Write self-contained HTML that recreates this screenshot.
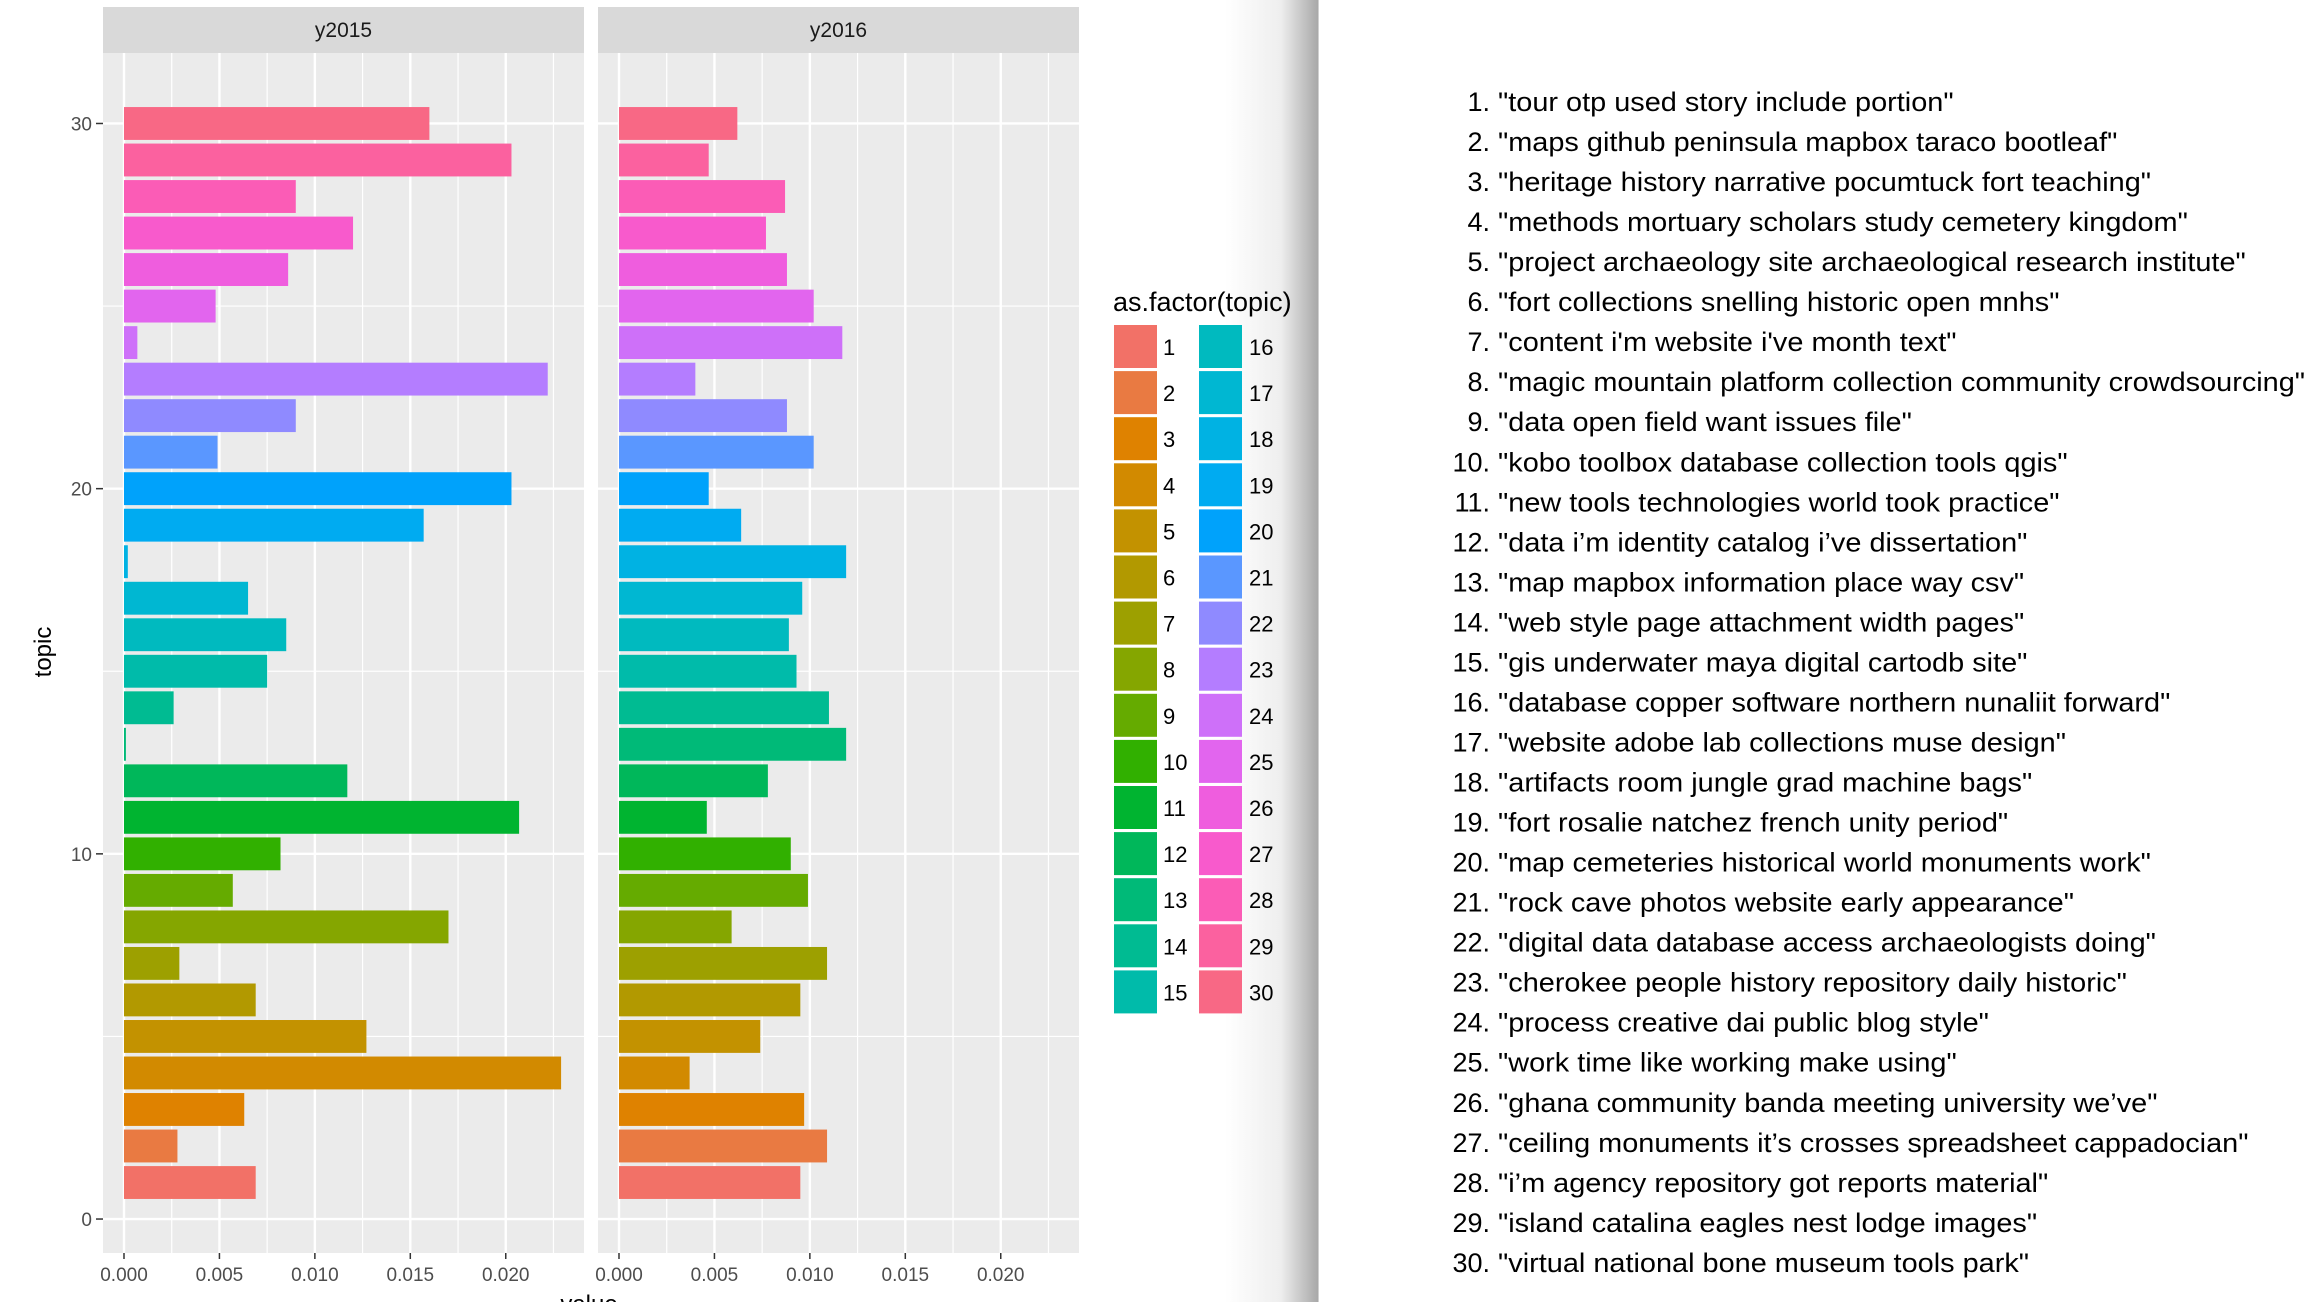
<!DOCTYPE html>
<html><head><meta charset="utf-8"><style>
html,body{margin:0;padding:0;background:#fff;}
svg{display:block;font-family:"Liberation Sans",Arial,sans-serif;}
</style></head><body>
<svg id="chart" width="2308" height="1302" viewBox="0 0 2308 1302" xmlns="http://www.w3.org/2000/svg">
<defs>
<linearGradient id="shadow" x1="0" x2="1" y1="0" y2="0">
<stop offset="0" stop-color="#ffffff"/>
<stop offset="0.6" stop-color="#eeeeee"/>
<stop offset="1" stop-color="#a8a8a8"/>
</linearGradient>
</defs>
<rect x="1225" y="0" width="93" height="1302" fill="url(#shadow)"/>
<line x1="1318.5" y1="0" x2="1318.5" y2="1302" stroke="#d0d0d0" stroke-width="1"/>
<g id="plot"></g>
<g id="legend"></g>
<g id="topiclist"></g>
</svg>
<script>
const topics = [1,2,3,4,5,6,7,8,9,10,11,12,13,14,15,16,17,18,19,20,21,22,23,24,25,26,27,28,29,30];
const values2015 = [0.0069,0.0028,0.0063,0.0229,0.0127,0.0069,0.0029,0.0170,0.0057,0.0082,0.0207,0.0117,0.0001,0.0026,0.0075,0.0085,0.0065,0.0002,0.0157,0.0203,0.0049,0.0090,0.0222,0.0007,0.0048,0.0086,0.0120,0.0090,0.0203,0.0160];
const values2016 = [0.0095,0.0109,0.0097,0.0037,0.0074,0.0095,0.0109,0.0059,0.0099,0.0090,0.0046,0.0078,0.0119,0.0110,0.0093,0.0089,0.0096,0.0119,0.0064,0.0047,0.0102,0.0088,0.0040,0.0117,0.0102,0.0088,0.0077,0.0087,0.0047,0.0062];
const panelNames = ["y2015","y2016"];
const xTicks = [0,0.005,0.010,0.015,0.020];
const xTickLabels = ["0.000","0.005","0.010","0.015","0.020"];
const yTicks = [0,10,20,30];
const topicLabels = ["tour otp used story include portion","maps github peninsula mapbox taraco bootleaf","heritage history narrative pocumtuck fort teaching","methods mortuary scholars study cemetery kingdom","project archaeology site archaeological research institute","fort collections snelling historic open mnhs","content i'm website i've month text","magic mountain platform collection community crowdsourcing","data open field want issues file","kobo toolbox database collection tools qgis","new tools technologies world took practice","data i’m identity catalog i’ve dissertation","map mapbox information place way csv","web style page attachment width pages","gis underwater maya digital cartodb site","database copper software northern nunaliit forward","website adobe lab collections muse design","artifacts room jungle grad machine bags","fort rosalie natchez french unity period","map cemeteries historical world monuments work","rock cave photos website early appearance","digital data database access archaeologists doing","cherokee people history repository daily historic","process creative dai public blog style","work time like working make using","ghana community banda meeting university we’ve","ceiling monuments it’s crosses spreadsheet cappadocian","i’m agency repository got reports material","island catalina eagles nest lodge images","virtual national bone museum tools park"];

const NS="http://www.w3.org/2000/svg";
function mk(tag, attrs, parent){const e=document.createElementNS(NS,tag);for(const k in attrs)e.setAttribute(k,attrs[k]);parent.appendChild(e);return e;}
function hcl(h,c,l){
  const Xn=95.047,Yn=100,Zn=108.883;
  const d=Xn+15*Yn+3*Zn, un=4*Xn/d, vn=9*Yn/d;
  const hr=h*Math.PI/180, u=c*Math.cos(hr), v=c*Math.sin(hr);
  const Y=Yn*Math.pow((l+16)/116,3);
  const up=u/(13*l)+un, vp=v/(13*l)+vn;
  const X=Y*9*up/(4*vp), Z=Y*(12-3*up-20*vp)/(4*vp);
  const x=X/100,y=Y/100,z=Z/100;
  let r=3.2404542*x-1.5371385*y-0.4985314*z;
  let g=-0.9692660*x+1.8760108*y+0.0415560*z;
  let b=0.0556434*x-0.2040259*y+1.0572252*z;
  const gam=t=>{t=t<=0.0031308?12.92*t:1.055*Math.pow(t,1/2.4)-0.055;return Math.round(Math.max(0,Math.min(1,t))*255);};
  return "rgb("+gam(r)+","+gam(g)+","+gam(b)+")";
}
const colors = topics.map((t,i)=>hcl(15+360*i/30,100,63));

const plot=document.getElementById("plot");
const panelX=[103,598], panelW=481, panelTop=53, panelBot=1253;
const xMin=-0.0011, xMax=0.0241, yMin=-0.93, yMax=31.93;
function xs(p,v){return panelX[p]+(v-xMin)/(xMax-xMin)*panelW;}
function ys(v){return panelBot-(v-yMin)/(yMax-yMin)*(panelBot-panelTop);}
const series=[values2015,values2016];
const unitH=(panelBot-panelTop)/(yMax-yMin);

panelNames.forEach((name,p)=>{
  const g=mk("g",{},plot);
  
  
  const strip=mk("rect",{x:panelX[p],y:7,width:panelW,height:46,fill:"#d9d9d9"},g);
  
  
  const st=mk("text",{x:panelX[p]+panelW/2,y:37,"text-anchor":"middle","font-size":"21",fill:"#1a1a1a"},g);
  st.textContent=name;
  
  
  mk("rect",{x:panelX[p],y:panelTop,width:panelW,height:panelBot-panelTop,fill:"#ebebeb"},g);
  for(let v=-0.0025; v<=xMax; v+=0.005){ if(v<xMin)continue; const x=xs(p,v); mk("line",{x1:x,x2:x,y1:panelTop,y2:panelBot,stroke:"#fff","stroke-width":1.2},g);}
  [5,15,25].forEach(v=>{const y=ys(v);mk("line",{x1:panelX[p],x2:panelX[p]+panelW,y1:y,y2:y,stroke:"#fff","stroke-width":1.2},g);});
  xTicks.forEach(v=>{const x=xs(p,v);mk("line",{x1:x,x2:x,y1:panelTop,y2:panelBot,stroke:"#fff","stroke-width":2.4},g);});
  yTicks.forEach(v=>{const y=ys(v);mk("line",{x1:panelX[p],x2:panelX[p]+panelW,y1:y,y2:y,stroke:"#fff","stroke-width":2.4},g);});
  topics.forEach((t,i)=>{
    const v=series[p][i];
    const r=mk("rect",{x:xs(p,0),y:ys(t)-unitH*0.45,width:Math.max(0.5,xs(p,v)-xs(p,0)),height:unitH*0.9,fill:colors[i]},g);
    
    
  });
  xTicks.forEach((v,k)=>{
    const x=xs(p,v);
    mk("line",{x1:x,x2:x,y1:panelBot,y2:panelBot+6,stroke:"#333","stroke-width":1.5},g);
    const tl=mk("text",{x:x,y:1281,"text-anchor":"middle","font-size":"19",fill:"#4d4d4d"},g);
    tl.textContent=xTickLabels[k];
    
    
  });
});
yTicks.forEach(v=>{
  const y=ys(v);
  mk("line",{x1:96,x2:103,y1:y,y2:y,stroke:"#333","stroke-width":1.5},plot);
  const tl=mk("text",{x:92,y:y+7,"text-anchor":"end","font-size":"19",fill:"#4d4d4d"},plot);
  tl.textContent=String(v);
  
  
});
const yt=mk("text",{x:0,y:0,transform:"translate(51,652) rotate(-90)","text-anchor":"middle","font-size":"24",fill:"#000"},plot);
yt.textContent="topic";


const xt=mk("text",{x:589,y:1312,"text-anchor":"middle","font-size":"24",fill:"#000"},plot);
xt.textContent="value";



const leg=document.getElementById("legend");


const lt=mk("text",{x:1113,y:311,"font-size":"27",fill:"#000"},leg);
lt.textContent="as.factor(topic)";


topics.forEach((t,i)=>{
  const col=i<15?0:1, row=i%15;
  const kx=col?1199:1114, ky=325+row*46.1;
  const e=mk("g",{},leg);
  
  
  mk("rect",{x:kx,y:ky,width:43,height:43,fill:colors[i]},e);
  const tx=mk("text",{x:kx+(col?50:49),y:ky+30,"font-size":"22",fill:"#000"},e);
  tx.textContent=String(t);
});

const tlist=document.getElementById("topiclist");


topicLabels.forEach((s,i)=>{
  const y=102+i*40.03+9;
  const n=mk("text",{x:1490,y:y,"text-anchor":"end","font-size":"27",fill:"#000"},tlist);
  n.textContent=(i+1)+".";
  const tx=mk("text",{x:0,y:0,transform:"translate(1498,"+y+") scale(1.07,1)","font-size":"27",fill:"#000"},tlist);
  tx.textContent='"'+s+'"';
  
  
});
</script>
</body></html>
